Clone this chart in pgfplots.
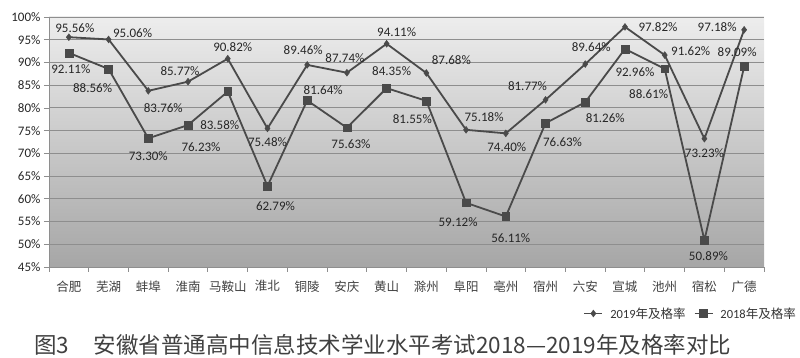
\documentclass[border=0pt]{standalone}
\usepackage{fontspec}
\setmainfont{Carlito}
\newfontfamily\cjk{Noto Sans CJK SC}
\usepackage{pgfplots}
\usepackage{pgfplotstable}
\pgfplotsset{compat=1.18}
\definecolor{ln}{HTML}{4A4A4A}
\definecolor{gridc}{HTML}{8E8E8E}
\definecolor{bgtop}{HTML}{EDEDED}
\definecolor{bgmid}{HTML}{DEDEDE}
\definecolor{bgbot}{HTML}{A6A6A6}

\pgfplotstableread{
x y lab dx dy
0 95.56 95.56 6 9
1 95.06 95.06 24 6
2 83.76 83.76 15 -17
3 85.77 85.77 -8 11
4 90.82 90.82 5 12
5 75.48 75.48 0 -14
6 89.46 89.46 -4 15
7 87.74 87.74 -2 15
8 94.11 94.11 10 12
9 87.68 87.68 25 13
10 75.18 75.18 18 13
11 74.40 74.40 1 -14
12 81.77 81.77 -18 14
13 89.64 89.64 6 17
14 97.82 97.82 33 0
15 91.62 91.62 26 4
16 73.23 73.23 0 -14
17 97.18 97.18 -27 3
}\tabA

\pgfplotstableread{
x y lab dx dy
0 92.11 92.11 2 -16
1 88.56 88.56 -16 -19
2 73.30 73.30 0 -18
3 76.23 76.23 13 -22
4 83.58 83.58 -8 -33
5 62.79 62.79 8 -20
6 81.64 81.64 16 10
7 75.63 75.63 4 -16
8 84.35 84.35 5 17
9 81.55 81.55 -14 -18
10 59.12 59.12 -8 -19
11 56.11 56.11 5 -22
12 76.63 76.63 17 -19
13 81.26 81.26 20 -16
14 92.96 92.96 10 -23
15 88.61 88.61 -16 -25
16 50.89 50.89 4 -16
17 89.09 89.09 -7 14
}\tabB

\begin{document}
\begin{tikzpicture}[x=1pt,y=1pt]
\path[use as bounding box] (0,0) rectangle (800,358);
\begin{axis}[
  at={(49pt,91pt)}, anchor=south west,
  width=715pt, height=250pt, scale only axis,
  xmin=-0.5, xmax=17.5, ymin=45, ymax=100,
  /pgf/number format/assume math mode=true,
  axis background/.style={shade, top color=bgtop, middle color=bgmid, bottom color=bgbot},
  axis x line*=bottom, axis y line*=left,
  axis line style={-, gridc, line width=0.8pt},
  ytick={45,50,...,100},
  yticklabel={\pgfmathprintnumber{\tick}\%},
  yticklabel style={font=\fontsize{13}{14}\selectfont, text=black!85},
  ymajorgrids, grid style={gridc, line width=0.9pt},
  xtick={0,...,17},
  xticklabels={合肥,芜湖,蚌埠,淮南,马鞍山,淮北,铜陵,安庆,黄山,滁州,阜阳,亳州,宿州,六安,宣城,池州,宿松,广德},
  xticklabel style={font=\cjk\fontsize{12.5}{13}\selectfont, text=black!75, yshift=-5pt},
  major x tick style={draw=none},
  minor xtick={-0.5,0.5,...,17.5},
  tick align=outside,
  minor tick length=5pt, major tick length=5pt,
  tick style={gridc, line width=0.8pt},
  clip=false,
  legend style={at={(rel axis cs:1.0475,-0.186)}, anchor=east, draw=none, fill=none, font=\fontsize{12.5}{13}\selectfont, text=black!80, column sep=5pt, inner sep=0pt, /tikz/every even column/.append style={column sep=6pt}},
  legend columns=2,
  legend image code/.code={\draw[mark repeat=2, mark phase=2, #1] plot coordinates {(0pt,0pt) (9pt,0pt) (18pt,0pt)};},
  lbl/.style={
    point meta=explicit symbolic,
    nodes near coords={\pgfplotspointmeta\%},
    visualization depends on={\thisrow{dx} \as \dx},
    visualization depends on={\thisrow{dy} \as \dy},
    nodes near coords style={anchor=center, inner sep=0pt, font=\fontsize{13}{14}\selectfont, text=black!85, xshift=\dx pt, yshift=\dy pt},
  },
]
\addplot[ln, line width=1.8pt, mark=diamond*, mark size=3.4pt, mark options={ln, line width=0.5pt}, lbl] table[x=x, y=y, meta=lab] {\tabA};
\addlegendentry{2019{\cjk 年及格率}}
\addplot[ln, line width=1.8pt, mark=square*, mark size=3.9pt, mark options={ln, line width=0.5pt}, lbl] table[x=x, y=y, meta=lab] {\tabB};
\addlegendentry{2018{\cjk 年及格率}}
\end{axis}
\node[anchor=west, inner sep=0pt, font=\cjk\fontsize{22.5}{24}\selectfont, text=black!75] at (34,13) {图3\hspace{1.1em}安徽省普通高中信息技术学业水平考试2018—2019年及格率对比};
\end{tikzpicture}
\end{document}
